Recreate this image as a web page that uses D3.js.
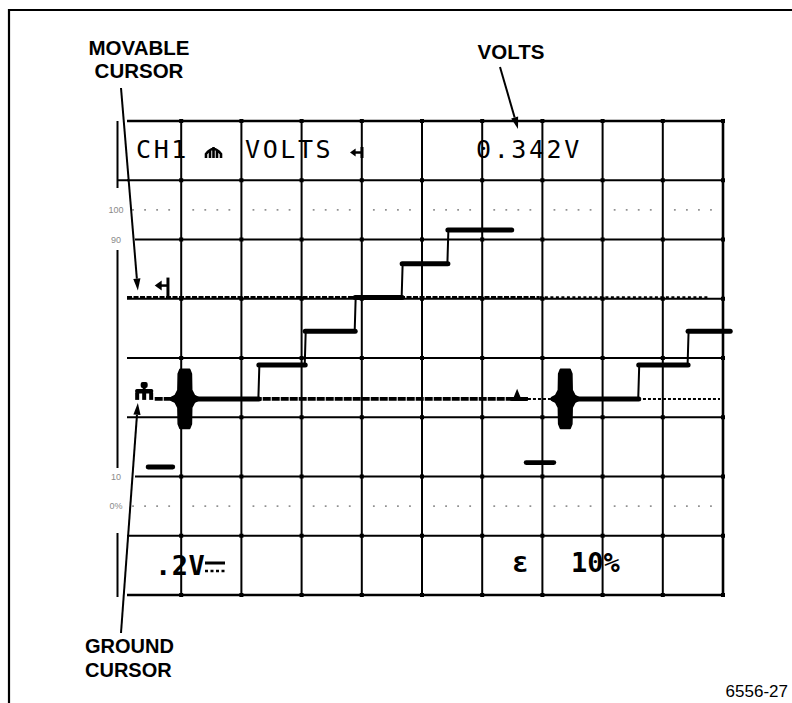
<!DOCTYPE html>
<html><head><meta charset="utf-8">
<script src="https://cdn.jsdelivr.net/npm/d3@7"></script>
<style>html,body{margin:0;padding:0;background:#fff;} svg{display:block;}</style>
</head><body>
<svg id="chart" width="792" height="703"></svg>
<script>
// ---------------- data ----------------
const timePerDiv = 10;                 // µs per division (readout "10µs")
const voltsPerDiv = 0.2;               // V per division (readout ".2V")
const timeTicks = [0, 10, 20, 30, 40, 50, 60, 70, 80, 90, 100];   // µs graticule
const divTicks = [0, 1, 2, 3, 4, 5, 6, 7, 8];                     // vertical divisions
const groundDiv = 3.31;                // ground level, divisions above bottom
const pctLines = [1.5, 6.5];           // 0% and 100% dotted lines (div)
const pctLabels = ["100", "90", "10", "0%"];
const pctLabelDivs = [6.5, 6, 2, 1.5];
const stepLevels = [0, 0.114, 0.228, 0.342, 0.456, 0.570];        // V
const line1Edges = [8.6, 22.9, 30.6, 38.9, 46.7, 54.3, 64.9];     // µs
const line2Edges = [71.9, 86.0, 94.2, 101.2];                     // µs
const porchTimes = [64.9, 67.3];
const blipTime = 65.8;
const syncStart = [4.5, 67.3];
const syncEnd = [8.6, 71.9];
const syncVolts = [-0.23, -0.215];
const burstCenter = [10.6, 73.8];
const burstAmp = 0.1;
const burstShape = [[-1.1,0.85],[-0.8,1],[0.8,1],[1.1,0.85],[1.15,0.3],[1.6,0.12],[2.3,0.04],[2.3,-0.04],[1.6,-0.12],[1.15,-0.3],[1.1,-0.85],[0.8,-1],[-0.8,-1],[-1.1,-0.85],[-1.15,-0.3],[-1.6,-0.12],[-2.3,-0.04],[-2.3,0.04],[-1.6,0.12],[-1.15,0.3]];
const groundCursorV = 0;
const movableCursorV = 0.342;
const groundCursorSpan = [5.6, 67.6, 99.5];
const movableCursorSpan = [1.0, 69.5, 97.8];
const readoutTop = ["CH1", "VOLTS", "0.342V"];
const readoutBottom = [".2V", "\u03b5", "10%"];
const annotations = ["MOVABLE", "CURSOR", "VOLTS", "GROUND", "CURSOR", "6556-27"];

// ---------------- scales ----------------
const x = d3.scaleLinear().domain([timeTicks[0], timeTicks[timeTicks.length - 1]]).range([121, 723]);
const yDiv = d3.scaleLinear().domain([0, 8]).range([595, 121]);
const yV = d3.scaleLinear()
  .domain([-groundDiv * voltsPerDiv, (8 - groundDiv) * voltsPerDiv])
  .range([595, 121]);

const svg = d3.select("#chart");
svg.append("rect").attr("width", 792).attr("height", 703).attr("fill", "#fff");

// outer frame (top + left only)
svg.append("path").attr("d", "M9,703 L9,10 L792,10")
  .attr("fill", "none").attr("stroke", "#000").attr("stroke-width", 2.2);

// ---------------- graticule ----------------
const grat = svg.append("g");
timeTicks.filter(t => t > 0).forEach(t => {
  grat.append("line")
    .attr("x1", x(t)).attr("x2", x(t)).attr("y1", yDiv(8) - 1).attr("y2", yDiv(0) + 1)
    .attr("stroke", "#000").attr("stroke-width", t === 100 ? 2.6 : 2);
});
const labeledDivs = [2, 6];
divTicks.forEach(d => {
  grat.append("line")
    .attr("x1", labeledDivs.includes(d) ? 135 : 127).attr("x2", x(100) + 1)
    .attr("y1", yDiv(d)).attr("y2", yDiv(d))
    .attr("stroke", "#000").attr("stroke-width", (d === 8 || d === 0) ? 2.5 : 2);
});
// intersection blobs
timeTicks.filter(t => t > 0).forEach(t => divTicks.forEach(d => {
  grat.append("rect").attr("x", x(t) - 2).attr("y", yDiv(d) - 2)
    .attr("width", 4).attr("height", 4).attr("fill", "#000");
}));
// left bezel line with gaps for the % labels
[[121, 188], [250, 468], [533, 597]].forEach(s => {
  grat.append("line").attr("x1", 117.5).attr("x2", 117.5).attr("y1", s[0]).attr("y2", s[1])
    .attr("stroke", "#000").attr("stroke-width", 2);
});
grat.append("line").attr("x1", 117).attr("x2", 128).attr("y1", yDiv(7)).attr("y2", yDiv(7))
  .attr("stroke", "#000").attr("stroke-width", 2);
// dotted 0% / 100% lines
pctLines.forEach(d => {
  d3.range(1, 50).filter(k => k % 5 !== 0).forEach(k => {
    grat.append("rect").attr("x", x(k * 2) - 0.9).attr("y", yDiv(d) - 0.8)
      .attr("width", 1.8).attr("height", 1.6).attr("fill", "#888");
  });
});
pctLabels.forEach((lab, i) => {
  grat.append("text").attr("x", 116).attr("y", yDiv(pctLabelDivs[i]) + 3)
    .attr("text-anchor", "middle").attr("font-family", "Liberation Sans, Arial, sans-serif")
    .attr("font-size", 9).attr("fill", "#8a8a8a").text(lab);
});

// ---------------- cursors ----------------
const cur = svg.append("g").attr("stroke", "#000").attr("fill", "none");
cur.append("line").attr("x1", x(groundCursorSpan[0])).attr("x2", x(groundCursorSpan[1]))
  .attr("y1", yV(groundCursorV)).attr("y2", yV(groundCursorV))
  .attr("stroke-width", 3.6).attr("stroke-dasharray", "8,1");
cur.append("line").attr("x1", x(groundCursorSpan[1])).attr("x2", x(groundCursorSpan[2]))
  .attr("y1", yV(groundCursorV)).attr("y2", yV(groundCursorV))
  .attr("stroke-width", 2).attr("stroke-dasharray", "3,2");
cur.append("line").attr("x1", x(movableCursorSpan[0])).attr("x2", x(movableCursorSpan[1]))
  .attr("y1", yV(movableCursorV)).attr("y2", yV(movableCursorV))
  .attr("stroke-width", 3).attr("stroke-dasharray", "5,1.5");
cur.append("line").attr("x1", x(movableCursorSpan[1])).attr("x2", x(movableCursorSpan[2]))
  .attr("y1", yV(movableCursorV)).attr("y2", yV(movableCursorV))
  .attr("stroke-width", 2.6).attr("stroke-dasharray", "3,2.5");

// ground cursor symbol
function groundSym(cx, by) {
  const s = svg.append("g").attr("fill", "#000");
  s.append("rect").attr("x", cx - 3.5).attr("y", by - 18).attr("width", 7).attr("height", 6).attr("rx", 2);
  s.append("rect").attr("x", cx - 1.5).attr("y", by - 13).attr("width", 3).attr("height", 3);
  s.append("rect").attr("x", cx - 9).attr("y", by - 11).attr("width", 18).attr("height", 4.5).attr("rx", 1.5);
  [-9, -2, 5].forEach(o => s.append("rect").attr("x", cx + o).attr("y", by - 7).attr("width", 4).attr("height", 7));
}
groundSym(x(3.85), yV(groundCursorV) + 1);

// movable cursor symbol (◄|)
function moveSym(tipX, cy, barTop, barBot, barX, sz) {
  const s = svg.append("g");
  s.append("path").attr("d", `M${tipX},${cy} L${tipX + sz * 1.4},${cy - sz} L${tipX + sz * 1.4},${cy + sz} Z`).attr("fill", "#000");
  s.append("line").attr("x1", tipX + sz).attr("x2", barX).attr("y1", cy).attr("y2", cy).attr("stroke", "#000").attr("stroke-width", 2.5);
  s.append("line").attr("x1", barX).attr("x2", barX).attr("y1", barTop).attr("y2", barBot).attr("stroke", "#000").attr("stroke-width", 3);
}
moveSym(x(5.6), yV(movableCursorV) - 12, yV(movableCursorV) - 20, yV(movableCursorV), x(7.8), 5);

// ---------------- trace ----------------
const tr = svg.append("g").attr("stroke", "#000").attr("fill", "none").attr("stroke-linecap", "round");
function stairs(edges) {
  for (let i = 0; i < edges.length - 1; i++) {
    tr.append("line").attr("x1", x(edges[i])).attr("x2", x(edges[i + 1]))
      .attr("y1", yV(stepLevels[i])).attr("y2", yV(stepLevels[i]))
      .attr("stroke-width", 5);
    if (i < edges.length - 2) {
      tr.append("line").attr("x1", x(edges[i + 1]) - 0.5).attr("x2", x(edges[i + 1]) + 0.5)
        .attr("y1", yV(stepLevels[i])).attr("y2", yV(stepLevels[i + 1]))
        .attr("stroke-width", 2);
    }
  }
}
stairs(line1Edges);
stairs(line2Edges);
// front porch + blip
tr.append("line").attr("x1", x(porchTimes[0])).attr("x2", x(porchTimes[1]))
  .attr("y1", yV(0)).attr("y2", yV(0)).attr("stroke-width", 4);
tr.append("path").attr("d", d3.line().x(d => x(d[0])).y(d => yV(d[1]))([[blipTime - 0.5, 0], [blipTime, 0.025], [blipTime + 0.5, 0]]))
  .attr("stroke-width", 2).attr("fill", "#000");
// sync tips
syncStart.forEach((s, i) => {
  tr.append("line").attr("x1", x(s)).attr("x2", x(syncEnd[i]))
    .attr("y1", yV(syncVolts[i])).attr("y2", yV(syncVolts[i])).attr("stroke-width", 4.8);
});
// colour bursts
const burstLine = d3.line().curve(d3.curveLinearClosed);
burstCenter.forEach(c => {
  svg.append("path")
    .attr("d", burstLine(burstShape.map(p => [x(c + p[0]), yV(p[1] * burstAmp)])))
    .attr("fill", "#000").attr("stroke", "#000").attr("stroke-width", 1.5).attr("stroke-linejoin", "round");
});

// ---------------- on-screen readouts ----------------
const crt = svg.append("g").attr("font-family", "DejaVu Sans Mono, monospace").attr("fill", "#000");
const topBase = 158;
crt.append("text").attr("x", 136).attr("y", topBase).attr("font-size", 25).attr("letter-spacing", 2.6).text(readoutTop[0]);
crt.append("text").attr("x", 245).attr("y", topBase).attr("font-size", 25).attr("letter-spacing", 2.6).text(readoutTop[1]);
crt.append("text").attr("x", 476).attr("y", topBase).attr("font-size", 25).attr("letter-spacing", 2.6).text(readoutTop[2]);
// ground symbol in readout
svg.append("path").attr("d", "M206,158 L206,154 Q213.5,144 221,154 L221,158 M213.5,147 L213.5,158 M210,151 L210,158 M217,151 L217,158")
  .attr("fill", "none").attr("stroke", "#000").attr("stroke-width", 2.6);
// movable symbol in readout
moveSym(350, 152.5, 147, 158, 362, 4);

const botBase = 575;
crt.append("text").attr("x", 155).attr("y", botBase).attr("font-size", 27).attr("font-weight", "bold").attr("letter-spacing", 0.5).text(readoutBottom[0]);
svg.append("line").attr("x1", 205).attr("x2", 225).attr("y1", botBase - 12).attr("y2", botBase - 12).attr("stroke", "#000").attr("stroke-width", 3);
svg.append("line").attr("x1", 205).attr("x2", 225).attr("y1", botBase - 4).attr("y2", botBase - 4).attr("stroke", "#000").attr("stroke-width", 2.5).attr("stroke-dasharray", "3,2.5");
crt.append("text").attr("x", 512).attr("y", botBase - 3).attr("font-size", 28).attr("font-weight", "bold").text(readoutBottom[1]);
crt.append("text").attr("x", 571).attr("y", botBase - 3).attr("font-size", 27).attr("font-weight", "bold").attr("letter-spacing", 0).text(readoutBottom[2]);

// ---------------- annotations ----------------
const ann = svg.append("g").attr("font-family", "Liberation Sans, Arial, Helvetica, sans-serif").attr("fill", "#000");
ann.append("text").attr("x", 139).attr("y", 55).attr("text-anchor", "middle").attr("font-weight", "bold").attr("font-size", 20.5).text(annotations[0]);
ann.append("text").attr("x", 139).attr("y", 78).attr("text-anchor", "middle").attr("font-weight", "bold").attr("font-size", 20.5).text(annotations[1]);
ann.append("text").attr("x", 511).attr("y", 59).attr("text-anchor", "middle").attr("font-weight", "bold").attr("font-size", 20.5).text(annotations[2]);
ann.append("text").attr("x", 85).attr("y", 653).attr("font-weight", "bold").attr("font-size", 20).text(annotations[3]);
ann.append("text").attr("x", 85).attr("y", 677).attr("font-weight", "bold").attr("font-size", 20).text(annotations[4]);
ann.append("text").attr("x", 788).attr("y", 697).attr("text-anchor", "end").attr("font-size", 17).text(annotations[5]);

function arrow(x1, y1, x2, y2) {
  const a = Math.atan2(y2 - y1, x2 - x1), L = 12, w = 3.6;
  const bx = x2 - L * Math.cos(a), by = y2 - L * Math.sin(a);
  svg.append("line").attr("x1", x1).attr("y1", y1).attr("x2", bx).attr("y2", by)
    .attr("stroke", "#000").attr("stroke-width", 2);
  svg.append("path").attr("d", `M${x2},${y2} L${bx + w * Math.sin(a)},${by - w * Math.cos(a)} L${bx - w * Math.sin(a)},${by + w * Math.cos(a)} Z`)
    .attr("fill", "#000");
}
arrow(121, 88, x(2.8), yV(movableCursorV) - 7);
arrow(500, 67, 518, 129);
arrow(121, 633, x(2.8), yV(groundCursorV) + 4);
</script>
</body></html>
